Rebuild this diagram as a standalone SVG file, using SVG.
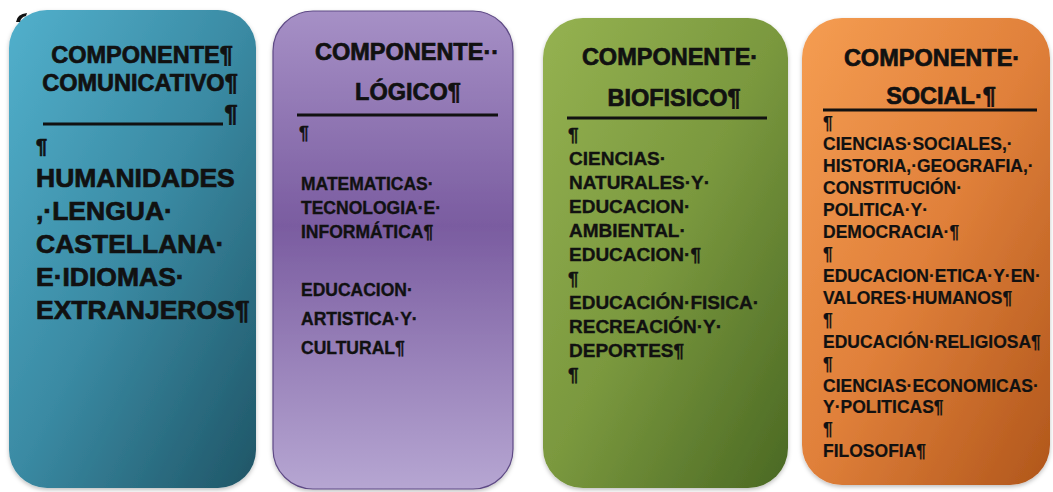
<svg xmlns="http://www.w3.org/2000/svg" width="1053" height="492" viewBox="0 0 1053 492">
<defs>
<linearGradient id="gBlue" x1="0" y1="0" x2="1" y2="1">
<stop offset="0" stop-color="#52b0cc"/><stop offset="0.5" stop-color="#3a8aa3"/><stop offset="1" stop-color="#1f5566"/>
</linearGradient>
<linearGradient id="gPurple" x1="0" y1="0" x2="0" y2="1">
<stop offset="0" stop-color="#a690c6"/><stop offset="0.45" stop-color="#7a5ca0"/><stop offset="1" stop-color="#b6a6d2"/>
</linearGradient>
<linearGradient id="gGreen" x1="0" y1="0" x2="1" y2="1">
<stop offset="0" stop-color="#95b251"/><stop offset="0.5" stop-color="#7a983e"/><stop offset="1" stop-color="#4a6823"/>
</linearGradient>
<linearGradient id="gOrange" x1="0" y1="0" x2="1" y2="1">
<stop offset="0" stop-color="#f59d52"/><stop offset="0.5" stop-color="#e0803a"/><stop offset="1" stop-color="#b0561b"/>
</linearGradient>
<filter id="sh" x="-10%" y="-10%" width="120%" height="120%">
<feDropShadow dx="0" dy="2" stdDeviation="2" flood-color="#000" flood-opacity="0.25"/>
</filter>
</defs>
<style>
text{font-family:"Liberation Sans",Arial,sans-serif;font-weight:bold;fill:#111;stroke:#111;stroke-width:0.35px;}
.h{font-size:23.5px;text-anchor:middle;stroke-width:0.7px;}
.b1{font-size:26.5px;stroke-width:0.7px;}
.b2{font-size:17.5px;}
.b3{font-size:19px;}
.b4{font-size:17.5px;stroke-width:0.2px;}
.rule{stroke:#111;stroke-width:3;}
</style>
<rect width="1053" height="492" fill="#ffffff"/>

<g id="node-comunicativo">
<rect x="9" y="10" width="247" height="478" rx="38" ry="38" fill="url(#gBlue)" filter="url(#sh)"/>
<path d="M16 22 Q17 14 27 13 L26 16 Q21 17 20 22 Z" fill="#111"/>
<text class="h" x="142" y="63">COMPONENTE¶</text>
<text class="h" x="140" y="91">COMUNICATIVO¶</text>
<line class="rule" x1="43" y1="124" x2="223" y2="124"/>
<text class="h" x="231" y="122">¶</text>
<text class="b1" x="36" y="153" style="font-size:20px">¶</text>
<text class="b1" x="36" y="187">HUMANIDADES</text>
<text class="b1" x="36" y="220">,·LENGUA·</text>
<text class="b1" x="36" y="253">CASTELLANA·</text>
<text class="b1" x="36" y="286">E·IDIOMAS·</text>
<text class="b1" x="36" y="319">EXTRANJEROS¶</text>
</g>

<g id="node-logico">
<rect x="273" y="11" width="240" height="478" rx="40" ry="40" fill="url(#gPurple)" stroke="#5e4a85" stroke-width="1.2" filter="url(#sh)"/>
<text class="h" x="407" y="60">COMPONENTE··</text>
<text class="h" x="408" y="100">LÓGICO¶</text>
<line class="rule" x1="297" y1="115" x2="498" y2="115"/>
<text class="b2" x="299" y="139">¶</text>
<text class="b2" x="301" y="190">MATEMATICAS·</text>
<text class="b2" x="301" y="214">TECNOLOGIA·E·</text>
<text class="b2" x="301" y="238">INFORMÁTICA¶</text>
<text class="b2" x="301" y="296">EDUCACION·</text>
<text class="b2" x="301" y="325">ARTISTICA·Y·</text>
<text class="b2" x="301" y="354">CULTURAL¶</text>
</g>

<g id="node-biofisico">
<rect x="543" y="18" width="245" height="470" rx="40" ry="40" fill="url(#gGreen)" filter="url(#sh)"/>
<text class="h" x="670" y="65">COMPONENTE·</text>
<text class="h" x="674" y="106">BIOFISICO¶</text>
<line class="rule" x1="567" y1="118" x2="767" y2="118"/>
<text class="b3" x="568" y="141">¶</text>
<text class="b3" x="569" y="165">CIENCIAS·</text>
<text class="b3" x="569" y="189">NATURALES·Y·</text>
<text class="b3" x="569" y="213">EDUCACION·</text>
<text class="b3" x="569" y="237">AMBIENTAL·</text>
<text class="b3" x="569" y="261">EDUCACION·¶</text>
<text class="b3" x="568" y="285">¶</text>
<text class="b3" x="569" y="309">EDUCACIÓN·FISICA·</text>
<text class="b3" x="569" y="333">RECREACIÓN·Y·</text>
<text class="b3" x="569" y="357">DEPORTES¶</text>
<text class="b3" x="568" y="381">¶</text>
</g>

<g id="node-social">
<rect x="802" y="18" width="248" height="467" rx="40" ry="40" fill="url(#gOrange)" filter="url(#sh)"/>
<text class="h" x="932" y="66">COMPONENTE·</text>
<text class="h" x="941" y="104">SOCIAL·¶</text>
<line class="rule" x1="823" y1="110" x2="1037" y2="110"/>
<text class="b4" x="823" y="129">¶</text>
<text class="b4" x="823" y="150">CIENCIAS·SOCIALES,·</text>
<text class="b4" x="823" y="172">HISTORIA,·GEOGRAFIA,·</text>
<text class="b4" x="823" y="194">CONSTITUCIÓN·</text>
<text class="b4" x="823" y="216">POLITICA·Y·</text>
<text class="b4" x="823" y="238">DEMOCRACIA·¶</text>
<text class="b4" x="823" y="260">¶</text>
<text class="b4" x="823" y="282">EDUCACION·ETICA·Y·EN·</text>
<text class="b4" x="823" y="304">VALORES·HUMANOS¶</text>
<text class="b4" x="823" y="326">¶</text>
<text class="b4" x="823" y="348">EDUCACIÓN·RELIGIOSA¶</text>
<text class="b4" x="823" y="370">¶</text>
<text class="b4" x="823" y="392">CIENCIAS·ECONOMICAS·</text>
<text class="b4" x="823" y="413">Y·POLITICAS¶</text>
<text class="b4" x="823" y="435">¶</text>
<text class="b4" x="823" y="457">FILOSOFIA¶</text>
</g>

<g id="connectors"></g>
</svg>
